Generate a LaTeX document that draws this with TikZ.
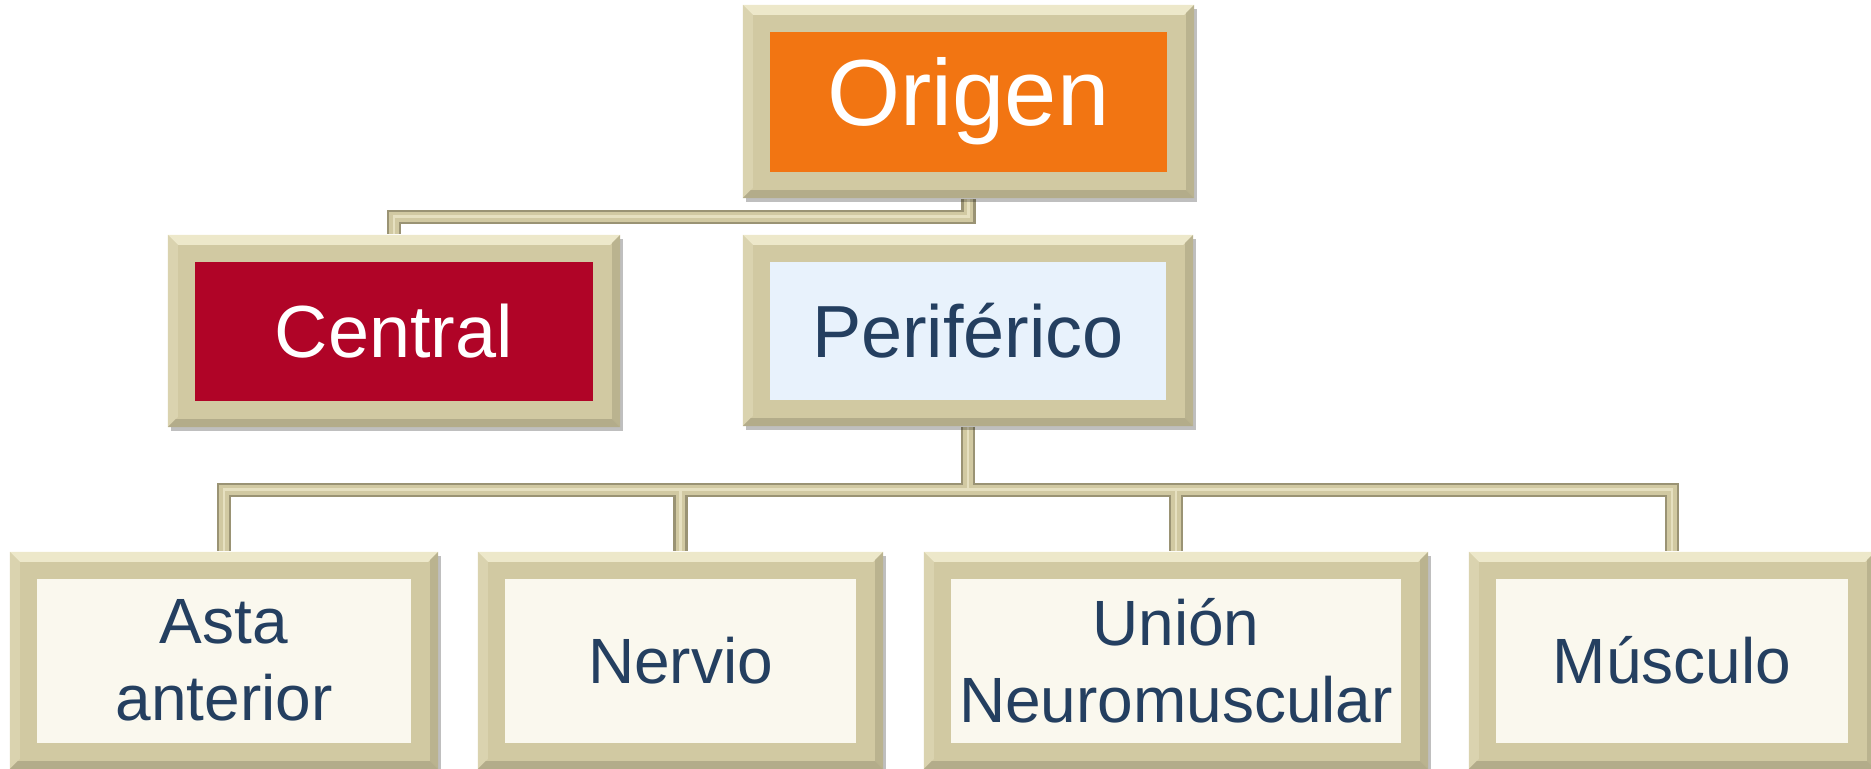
\documentclass[tikz,border=0pt]{standalone}
\usepackage{fontspec}
\setmainfont{Liberation Sans}
\usetikzlibrary{shadows,calc}
\pgfdeclarelayer{background}
\pgfsetlayers{background,main}
\definecolor{framec}{HTML}{D1C9A2}
\definecolor{bevtopc}{HTML}{EDE8CA}
\definecolor{bevleftc}{HTML}{DAD3AF}
\definecolor{bevrightc}{HTML}{BAB38F}
\definecolor{bevbotc}{HTML}{B3AC8A}
\definecolor{connedge}{HTML}{9A9374}
\definecolor{connlight}{HTML}{E6E0C0}
\definecolor{orangec}{HTML}{F27512}
\definecolor{redc}{HTML}{B00427}
\definecolor{bluec}{HTML}{E8F2FC}
\definecolor{creamc}{HTML}{FAF8EE}
\definecolor{navyc}{HTML}{243F60}
\tikzset{
  innerfill/.store in=\innerfillcol, innerfill=white,
  framebox/.style={rectangle, inner sep=0pt, fill=framec, align=center,
    drop shadow={shadow xshift=0.9pt, shadow yshift=-1.1pt, opacity=0.25, fill=black},
    path picture={
      \fill[bevtopc] (path picture bounding box.north west) -- (path picture bounding box.north east)
        -- ([shift={(-10,10)}]path picture bounding box.north east) -- ([shift={(10,10)}]path picture bounding box.north west) -- cycle;
      \fill[bevleftc] (path picture bounding box.north west) -- ([shift={(10,10)}]path picture bounding box.north west)
        -- ([shift={(10,-10)}]path picture bounding box.south west) -- (path picture bounding box.south west) -- cycle;
      \fill[bevrightc] (path picture bounding box.north east) -- (path picture bounding box.south east)
        -- ([shift={(-8,-8)}]path picture bounding box.south east) -- ([shift={(-8,8)}]path picture bounding box.north east) -- cycle;
      \fill[bevbotc] (path picture bounding box.south west) -- (path picture bounding box.south east)
        -- ([shift={(-8,-8)}]path picture bounding box.south east) -- ([shift={(8,-8)}]path picture bounding box.south west) -- cycle;
      \fill[\innerfillcol] ([shift={(27,27)}]path picture bounding box.north west) rectangle ([shift={(-27,-26)}]path picture bounding box.south east);
    }},
  topbox/.style={framebox, text=white, font=\fontsize{26.7}{32}\selectfont},
  midbox/.style={framebox, font=\fontsize{21}{25}\selectfont},
  lowbox/.style={framebox, innerfill=creamc, text=navyc, font=\fontsize{18.2}{22}\selectfont,
    minimum height=2.17cm},
  connout/.style={draw=connedge, line width=4pt, line join=miter},
  connmid/.style={draw=framec, line width=2.8pt, line join=miter},
  connhi/.style={draw=connlight, line width=0.8pt, line join=miter}
}
\begin{document}
\begin{tikzpicture}[x=0.01cm,y=-0.01cm]
\useasboundingbox (0,0) rectangle (1871,769);
\node[topbox, innerfill=orangec, minimum width=4.51cm, minimum height=1.93cm] (origen) at (968.5,101.5) {Origen};
\node[midbox, innerfill=redc, text=white, minimum width=4.52cm, minimum height=1.92cm] (central) at (394,331) {Central};
\node[midbox, innerfill=bluec, text=navyc, minimum width=4.50cm, minimum height=1.91cm] (perif) at (968,330.5) {Periférico};
\node[lowbox, minimum width=4.28cm] (asta) at (224,660.5) {Asta\\anterior};
\node[lowbox, minimum width=4.05cm] (nervio) at (680.5,660.5) {Nervio};
\node[lowbox, minimum width=5.04cm] (union) at (1176,660.5) {Unión\\Neuromuscular};
\node[lowbox, minimum width=4.06cm] (musculo) at (1672,660.5) {Músculo};
\coordinate (top) at ($(origen.south)+(0,18)$);
\coordinate (hub) at ($(perif.south)+(0,63)$);
\begin{pgfonlayer}{background}
  \foreach \s in {connout,connmid,connhi}{
    \draw[\s] (origen.south) -- (top) -| (central.north);
    \draw[\s] (perif.south) -- (hub);
    \draw[\s] (hub) -| (asta.north);
    \draw[\s] (hub) -| (nervio.north);
    \draw[\s] (hub) -| (union.north);
    \draw[\s] (hub) -| (musculo.north);
  }
\end{pgfonlayer}
\end{tikzpicture}
\end{document}
